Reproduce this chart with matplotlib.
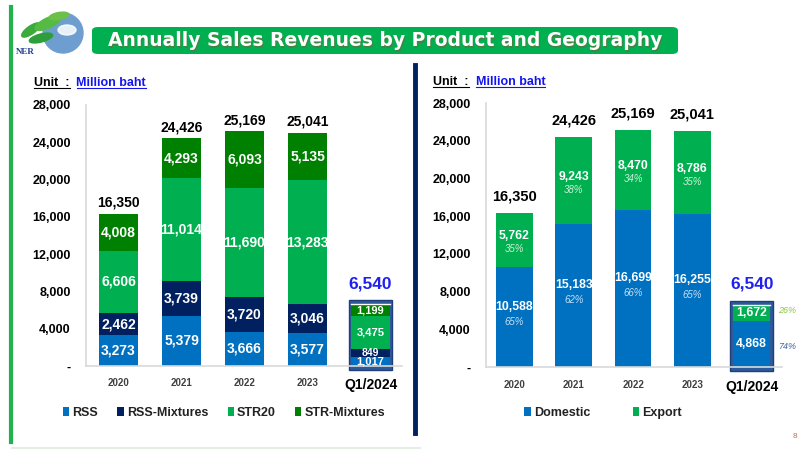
import numpy as np
import matplotlib
matplotlib.use("Agg")
import matplotlib.pyplot as plt
from matplotlib.patches import Rectangle, FancyBboxPatch, Circle, Ellipse
from matplotlib.lines import Line2D
from matplotlib.ticker import FuncFormatter

## data
years = ["2020", "2021", "2022", "2023", "Q1/2024"]
rss = [3273, 5379, 3666, 3577, 1017]
rss_mix = [2462, 3739, 3720, 3046, 849]
str20 = [6606, 11014, 11690, 13283, 3475]
str_mix = [4008, 4293, 6093, 5135, 1199]
totals = [16350, 24426, 25169, 25041, 6540]

domestic = [10588, 15183, 16699, 16255, 4868]
export = [5762, 9243, 8470, 8786, 1672]
dom_pct = ["65%", "62%", "66%", "65%", "74%"]
exp_pct = ["35%", "38%", "34%", "35%", "26%"]

## colours
c_rss = "#0070C0"
c_rssm = "#002060"
c_str = "#00B050"
c_strm = "#008000"
c_frame = "#2F5A9A"

W, H = 798, 450
fig = plt.figure(figsize=(W / 100, H / 100), dpi=100)
fig.patch.set_facecolor("white")
plt.rcParams['font.family'] = ['Liberation Sans', 'DejaVu Sans']

def fx(px):
    return px / W

def fy(py):
    return 1 - py / H

# green frame on the left and navy divider
fig.add_artist(Line2D([fx(11), fx(11)], [fy(7), fy(442)], color="#22B14C", lw=3))
fig.add_artist(Line2D([fx(12), fx(420)], [fy(448), fy(448)], color="#E3EFE3", lw=1.5))
fig.add_artist(Line2D([fx(415), fx(415)], [fy(65), fy(433)], color="#002060", lw=3.5))

# title banner
banner = FancyBboxPatch((fx(92), fy(54)), fx(586), 27 / H, boxstyle="round,pad=0,rounding_size=0.008",
                        transform=fig.transFigure, facecolor="#00B050", edgecolor="none")
fig.add_artist(banner)
fig.text(fx(385) + 0.001, fy(41) - 0.003, "Annually Sales Revenues by Product and Geography",
         ha="center", va="center", fontsize=13.5, fontweight="bold", color="#6B6B3A",
         family="DejaVu Sans", alpha=0.6)
fig.text(fx(385), fy(41), "Annually Sales Revenues by Product and Geography",
         ha="center", va="center", fontsize=13.5, fontweight="bold", color="white", family="DejaVu Sans")

# rough logo
lax = fig.add_axes([fx(15), fy(56), 72 / W, 48 / H])
lax.set_xlim(0, 72)
lax.set_ylim(0, 48)
lax.set_aspect("equal")
lax.axis("off")
lax.add_patch(Circle((48, 23), 20, color="#6E9ED0"))
lax.add_patch(Ellipse((52, 26), 18, 10, color="white", alpha=0.85))
lax.add_patch(Ellipse((16, 26), 22, 8, angle=35, color="#3DAA3D"))
lax.add_patch(Ellipse((33, 33), 28, 10, angle=25, color="#55BB44"))
lax.add_patch(Ellipse((26, 18), 24, 8, angle=15, color="#2E9E3A"))
lax.add_patch(Ellipse((44, 40), 20, 7, angle=10, color="#6CC04A"))
lax.text(1, 2, "NER", fontsize=6.5, family="Liberation Serif", color="#1F3F8F", fontweight="bold")

# unit labels with underline
renderer = fig.canvas.get_renderer()

def unit_label(x0, y0):
    t1 = fig.text(fx(x0), fy(y0), "Unit  :  ", fontsize=9, fontweight="bold", color="black", va="center")
    bb1 = t1.get_window_extent(renderer)
    t2 = fig.text(bb1.x1 / W, fy(y0), "Million baht", fontsize=9, fontweight="bold",
                  color="#1414F0", va="center")
    bb2 = t2.get_window_extent(renderer)
    fig.add_artist(Line2D([bb1.x0 / W, (bb1.x1 - 7) / W], [(bb1.y0 + 1) / H] * 2, color="black", lw=0.8))
    fig.add_artist(Line2D([bb2.x0 / W, bb2.x1 / W], [(bb2.y0 + 1) / H] * 2, color="#1414F0", lw=0.8))

unit_label(34, 83)
unit_label(433, 82)

yfmt = FuncFormatter(lambda v, p: "-" if v == 0 else f"{v:,.0f}")

def style_axes(ax, xmin, xmax):
    ax.set_xlim(xmin, xmax)
    ax.set_ylim(0, 28000)
    ax.set_yticks(np.arange(0, 28001, 4000))
    ax.yaxis.set_major_formatter(yfmt)
    ax.set_xticks(range(len(years)))
    ax.set_xticklabels(years)
    for s in ["top", "right"]:
        ax.spines[s].set_visible(False)
    ax.spines["left"].set_color("#D9D9D9")
    ax.spines["bottom"].set_color("#D9D9D9")
    ax.spines["left"].set_linewidth(1.2)
    ax.spines["bottom"].set_linewidth(1.2)
    ax.tick_params(axis="y", length=0, pad=11, labelsize=9)
    ax.tick_params(axis="x", length=0, pad=9, labelsize=7, labelcolor="#404040")
    for lab in ax.get_yticklabels():
        lab.set_fontweight("bold")
    for lab in ax.get_xticklabels():
        lab.set_fontweight("bold")
    q = ax.get_xticklabels()[-1]
    q.set_fontsize(10)
    q.set_color("black")

x = np.arange(len(years))
bw = 0.62
leg_kw = dict(frameon=False, handlelength=0.5, handleheight=0.7, handletextpad=0.25,
              prop={"weight": "bold", "size": 9}, labelcolor="#222222",
              bbox_transform=fig.transFigure, loc="center")

################################################################################
## left: by product
################################################################################
ax1 = fig.add_axes([fx(86), fy(366), 316 / W, 261 / H])
style_axes(ax1, -0.516, 4.5)
ax1.add_patch(Rectangle((4 - 0.345, -450), 0.69, 7530, facecolor=c_frame, edgecolor="#1F3F7A",
                        lw=1, zorder=1, clip_on=False))
bottom = np.zeros(len(years))
series = [(rss, c_rss, "RSS"), (rss_mix, c_rssm, "RSS-Mixtures"),
          (str20, c_str, "STR20"), (str_mix, c_strm, "STR-Mixtures")]
for vals, col, name in series:
    ax1.bar(x, vals, bw, bottom=bottom, color=col, label=name, zorder=2)
    for i, v in enumerate(vals):
        fs = 10 if i < 4 else (7.5 if v < 1000 else 8)
        ax1.text(x[i], bottom[i] + v / 2, f"{v:,}", ha="center", va="center", color="white",
                 fontsize=fs, fontweight="bold", zorder=3)
    bottom += np.array(vals)
ax1.plot([4 - bw / 2, 4 + bw / 2], [totals[4] + 60, totals[4] + 60], color="white", lw=1, zorder=3)
ax1.plot([4 - bw / 2, 4 + bw / 2], [-180, -180], color="#BDD7EE", lw=0.8, zorder=3)
for i, t in enumerate(totals):
    if i < 4:
        ax1.text(x[i], t + 1150, f"{t:,}", ha="center", va="center", fontsize=10,
                 fontweight="bold", color="black")
    else:
        ax1.text(x[i], t + 2250, f"{t:,}", ha="center", va="center", fontsize=12.5,
                 fontweight="bold", color="#2020F0")
ax1.legend(bbox_to_anchor=(fx(224), fy(413)), ncol=4, columnspacing=1.55, **leg_kw)

################################################################################
## right: by geography
################################################################################
ax2 = fig.add_axes([fx(486), fy(367), 296 / W, 264 / H])
style_axes(ax2, -0.48, 4.51)
ax2.add_patch(Rectangle((4 - 0.365, -400), 0.73, 7450, facecolor=c_frame, edgecolor="#1F3F7A",
                        lw=1, zorder=1, clip_on=False))
ax2.bar(x, domestic, bw, color=c_rss, label="Domestic", zorder=2)
ax2.bar(x, export, bw, bottom=domestic, color=c_str, label="Export", zorder=2)
for i in range(len(years)):
    d, e = domestic[i], export[i]
    if i < 4:
        ax2.text(x[i], d / 2 + 1100, f"{d:,}", ha="center", va="center", color="white",
                 fontsize=8.8, fontweight="bold", zorder=3)
        ax2.text(x[i], d / 2 - 500, dom_pct[i], ha="center", va="center", color="#C5DDF2",
                 fontsize=7, style="italic", zorder=3)
        ax2.text(x[i], d + e / 2 + 400, f"{e:,}", ha="center", va="center", color="white",
                 fontsize=8.8, fontweight="bold", zorder=3)
        ax2.text(x[i], d + e / 2 - 1000, exp_pct[i], ha="center", va="center", color="#CFEFD8",
                 fontsize=7, style="italic", zorder=3)
        ax2.text(x[i], totals[i] + 1700, f"{totals[i]:,}", ha="center", va="center",
                 fontsize=10.5, fontweight="bold", color="black")
    else:
        ax2.text(x[i], d / 2, f"{d:,}", ha="center", va="center", color="white",
                 fontsize=8.8, fontweight="bold", zorder=3)
        ax2.text(x[i], d + e / 2, f"{e:,}", ha="center", va="center", color="white",
                 fontsize=8.8, fontweight="bold", zorder=3)
        ax2.text(x[i] + 0.6, d + e / 2 + 250, exp_pct[i], ha="center", va="center", color="#8CC63F",
                 fontsize=6.5, style="italic", clip_on=False)
        ax2.text(x[i] + 0.6, d / 2 - 300, dom_pct[i], ha="center", va="center", color="#3F5FAF",
                 fontsize=6.5, style="italic", clip_on=False)
        ax2.text(x[i], totals[i] + 2250, f"{totals[i]:,}", ha="center", va="center", fontsize=12.5,
                 fontweight="bold", color="#2020F0")
ax2.plot([4 - bw / 2, 4 + bw / 2], [totals[4] + 60, totals[4] + 60], color="white", lw=1, zorder=3)
ax2.legend(bbox_to_anchor=(fx(603), fy(413)), ncol=2, columnspacing=3.4, **leg_kw)

# page number fragment
fig.text(fx(793), fy(437), "8", fontsize=6, color="#C0704A", va="center")

fig.savefig("out.png", dpi=100)
